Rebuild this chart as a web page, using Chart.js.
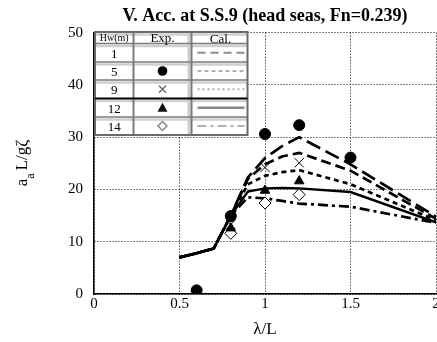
<!DOCTYPE html>
<html><head><meta charset="utf-8">
<script src="https://cdn.jsdelivr.net/npm/chart.js@4"></script>
<style>html,body{margin:0;padding:0;background:#fff;}canvas{display:block}</style>
</head><body>
<canvas id="c" width="437" height="342"></canvas>
<script>
// ---- data ----
const lambdaCalc = [0.5, 0.6, 0.7, 0.8, 0.9, 1.0, 1.1, 1.2, 1.5, 2.0];
const calcHw1  = [7.0, 7.8, 8.7, 15.0, 22.3, 26.0, 28.3, 30.0, 24.8, 14.8];
const calcHw5  = [7.0, 7.8, 8.7, 15.0, 22.0, 24.8, 26.3, 27.0, 23.6, 14.4];
const calcHw9  = [7.0, 7.8, 8.7, 15.0, 21.0, 22.6, 23.3, 23.7, 21.0, 14.1];
const calcHw12 = [7.0, 7.8, 8.7, 15.0, 19.6, 20.2, 20.3, 20.2, 19.5, 13.7];
const calcHw14 = [7.0, 7.8, 8.7, 15.0, 18.5, 18.3, 17.8, 17.3, 16.7, 13.6];

const expLambda5 = [0.6, 0.8, 1.0, 1.2, 1.5];
const expHw5     = [0.7, 14.9, 30.6, 32.3, 26.1];
const expLambda9 = [0.8, 1.0, 1.2];
const expHw9     = [13.3, 24.2, 25.1];
const expLambda12 = [0.8, 1.0, 1.2];
const expHw12     = [12.6, 19.8, 21.6];
const expLambda14 = [0.8, 1.0, 1.2];
const expHw14     = [11.6, 17.4, 19.0];

const hwLabels = ['1', '5', '9', '12', '14'];
const xTicks = [0, 0.5, 1, 1.5, 2];
const yTicks = [0, 10, 20, 30, 40, 50];
const titleText = 'V. Acc. at S.S.9 (head seas, Fn=0.239)';
const xTitle = 'λ/L';

const pts = (xs, ys) => xs.map((x, i) => ({x, y: ys[i]}));
const SERIF = '"Liberation Serif", "Times New Roman", serif';
Chart.defaults.font.family = SERIF;
Chart.defaults.color = '#000';

function lineDs(data, dash, w) {
  return {data: pts(lambdaCalc, data), showLine: true, borderColor: '#000', borderWidth: w || 2.7,
    borderDash: dash, pointRadius: 0, tension: 0, fill: false};
}

const yTitlePlugin = {
  id: 'ytitle',
  afterDraw(chart) {
    const ctx = chart.ctx;
    ctx.save();
    ctx.translate(27, 163);
    ctx.rotate(-Math.PI / 2);
    ctx.fillStyle = '#000';
    ctx.textBaseline = 'alphabetic';
    ctx.font = '17px ' + SERIF;
    const w1 = ctx.measureText('a').width;
    const w3 = ctx.measureText('L/gζ').width;
    ctx.font = '12px ' + SERIF;
    const w2 = ctx.measureText('a').width;
    const gap = 3;
    let sx = -(w1 + w2 + gap + w3) / 2;
    ctx.font = '17px ' + SERIF;
    ctx.fillText('a', sx, 0);
    ctx.font = '12px ' + SERIF;
    ctx.fillText('a', sx + w1, 7);
    ctx.font = '17px ' + SERIF;
    ctx.fillText('L/gζ', sx + w1 + w2 + gap, 0);
    ctx.restore();
  }
};

const tablePlugin = {
  id: 'table',
  afterDraw(chart) {
    const ctx = chart.ctx;
    const X = [95, 133.5, 191.5, 247.5];
    const Y = [32, 43.5, 62, 80, 98.5, 117, 135];
    ctx.save();
    ctx.fillStyle = '#fff';
    ctx.fillRect(X[0], Y[0], X[3] - X[0], Y[6] - Y[0]);
    ctx.strokeStyle = '#cfcfcf';
    ctx.lineWidth = 2.5;
    for (let i = 0; i < 6; i++) {
      ctx.beginPath(); ctx.moveTo(X[0], Y[i] + 2.5); ctx.lineTo(X[3], Y[i] + 2.5); ctx.stroke();
    }
    ctx.lineWidth = 3;
    ctx.beginPath(); ctx.moveTo(X[2] - 2.5, Y[0]); ctx.lineTo(X[2] - 2.5, Y[6]); ctx.stroke();
    ctx.strokeStyle = '#7a7a7a';
    ctx.lineWidth = 1.6;
    for (let i = 1; i < 6; i++) {
      if (i === 4) continue;
      ctx.beginPath(); ctx.moveTo(X[0], Y[i]); ctx.lineTo(X[3], Y[i]); ctx.stroke();
    }
    ctx.lineWidth = 2;
    ctx.beginPath(); ctx.moveTo(X[1], Y[0]); ctx.lineTo(X[1], Y[6]); ctx.stroke();
    ctx.beginPath(); ctx.moveTo(X[2], Y[0]); ctx.lineTo(X[2], Y[6]); ctx.stroke();
    ctx.strokeStyle = '#6a6a6a';
    ctx.lineWidth = 2;
    ctx.strokeRect(X[0], Y[0], X[3] - X[0], Y[6] - Y[0]);
    ctx.strokeStyle = '#000';
    ctx.lineWidth = 2;
    ctx.beginPath(); ctx.moveTo(X[0], Y[4]); ctx.lineTo(X[3], Y[4]); ctx.stroke();

    ctx.fillStyle = '#000';
    ctx.textAlign = 'center';
    ctx.textBaseline = 'middle';
    ctx.font = '10px ' + SERIF;
    ctx.fillText('Hw(m)', (X[0] + X[1]) / 2, (Y[0] + Y[1]) / 2 + 1);
    ctx.font = '13px ' + SERIF;
    ctx.fillText('Exp.', (X[1] + X[2]) / 2, (Y[0] + Y[1]) / 2 + 1);
    ctx.fillText('Cal.', (X[2] + X[3]) / 2 + 1, (Y[0] + Y[1]) / 2 + 1.5);
    for (let i = 0; i < hwLabels.length; i++) {
      ctx.fillText(hwLabels[i], (X[0] + X[1]) / 2, (Y[i + 1] + Y[i + 2]) / 2 + 1.5);
    }
    const mx = (X[1] + X[2]) / 2;
    const cy = i => (Y[i + 1] + Y[i + 2]) / 2;
    ctx.fillStyle = '#000';
    ctx.beginPath(); ctx.arc(mx, cy(1), 4.8, 0, Math.PI * 2); ctx.fill();
    ctx.strokeStyle = '#666'; ctx.lineWidth = 1.3;
    ctx.beginPath(); ctx.moveTo(mx - 3.5, cy(2) - 3.5); ctx.lineTo(mx + 3.5, cy(2) + 3.5);
    ctx.moveTo(mx + 3.5, cy(2) - 3.5); ctx.lineTo(mx - 3.5, cy(2) + 3.5); ctx.stroke();
    ctx.fillStyle = '#111';
    ctx.beginPath(); ctx.moveTo(mx, cy(3) - 5); ctx.lineTo(mx + 5, cy(3) + 4); ctx.lineTo(mx - 5, cy(3) + 4); ctx.closePath(); ctx.fill();
    ctx.strokeStyle = '#888'; ctx.lineWidth = 1.5;
    ctx.beginPath(); ctx.moveTo(mx, cy(4) - 4.5); ctx.lineTo(mx + 4.5, cy(4)); ctx.lineTo(mx, cy(4) + 4.5); ctx.lineTo(mx - 4.5, cy(4)); ctx.closePath(); ctx.stroke();
    const lx0 = X[2] + 6, lx1 = X[3] - 3;
    const samples = [
      {dash: [8, 5], c: '#8a8a8a', w: 2},
      {dash: [4, 3], c: '#b0b0b0', w: 2},
      {dash: [2, 3], c: '#b0b0b0', w: 2},
      {dash: [], c: '#8a8a8a', w: 2.5},
      {dash: [9, 4, 3, 4], c: '#b0b0b0', w: 2}
    ];
    samples.forEach((s, i) => {
      ctx.strokeStyle = s.c; ctx.lineWidth = s.w; ctx.setLineDash(s.dash);
      ctx.beginPath(); ctx.moveTo(lx0, cy(i)); ctx.lineTo(lx1, cy(i)); ctx.stroke();
    });
    ctx.setLineDash([]);
    ctx.restore();
  }
};

new Chart(document.getElementById('c'), {
  type: 'scatter',
  data: {
    datasets: [
      {data: pts(expLambda5, expHw5), pointStyle: 'circle', pointRadius: 5.5, backgroundColor: '#000', borderColor: '#000', borderWidth: 1},
      {data: pts(expLambda9, expHw9), pointStyle: 'crossRot', pointRadius: 6.5, borderColor: '#000', borderWidth: 1},
      {data: pts(expLambda12, expHw12), pointStyle: 'triangle', pointRadius: 5.5, backgroundColor: '#000', borderColor: '#000', borderWidth: 1},
      {data: pts(expLambda14, expHw14), pointStyle: 'rectRot', pointRadius: 6, backgroundColor: '#fff', borderColor: '#000', borderWidth: 1},
      lineDs(calcHw1, [15, 6]),
      lineDs(calcHw5, [10, 5]),
      lineDs(calcHw9, [5, 4]),
      lineDs(calcHw12, [], 2.4),
      lineDs(calcHw14, [10, 4, 3, 4])
    ]
  },
  options: {
    responsive: false,
    animation: false,
    devicePixelRatio: 1,
    layout: {autoPadding: false, padding: {left: 0, right: 1, top: 0, bottom: 0}},
    plugins: {
      legend: {display: false},
      tooltip: {enabled: false},
      title: {display: true, text: titleText, fullSize: false, color: '#000',
        font: {size: 18, weight: 'bold', family: SERIF, lineHeight: 1.2}, padding: {top: 6, bottom: 5}}
    },
    scales: {
      x: {
        type: 'linear', min: 0, max: 2,
        afterBuildTicks: s => { s.ticks = xTicks.map(v => ({value: v})); },
        afterFit: s => { s.height = 48; s.paddingLeft = 0; s.paddingRight = 0; },
        ticks: {padding: 1, font: {size: 15, family: SERIF}, color: '#000', maxRotation: 0, callback: v => String(v)},
        grid: {color: '#000', lineWidth: 1, drawTicks: false},
        border: {display: true, color: '#000', width: 1.5, dash: [1, 2]},
        title: {display: true, text: xTitle, color: '#000', font: {size: 17, family: SERIF, lineHeight: 1.2}, padding: {top: 0, bottom: 2}}
      },
      y: {
        type: 'linear', min: 0, max: 50,
        afterBuildTicks: s => { s.ticks = yTicks.map(v => ({value: v})); },
        afterFit: s => { s.width = 94; s.paddingTop = 0; s.paddingBottom = 0; },
        ticks: {padding: 11, font: {size: 15, family: SERIF}, color: '#000'},
        grid: {color: '#000', lineWidth: 1, drawTicks: false},
        border: {display: true, color: '#000', width: 1.5, dash: [1, 2]}
      }
    }
  },
  plugins: [tablePlugin, yTitlePlugin]
});
</script>
</body></html>
